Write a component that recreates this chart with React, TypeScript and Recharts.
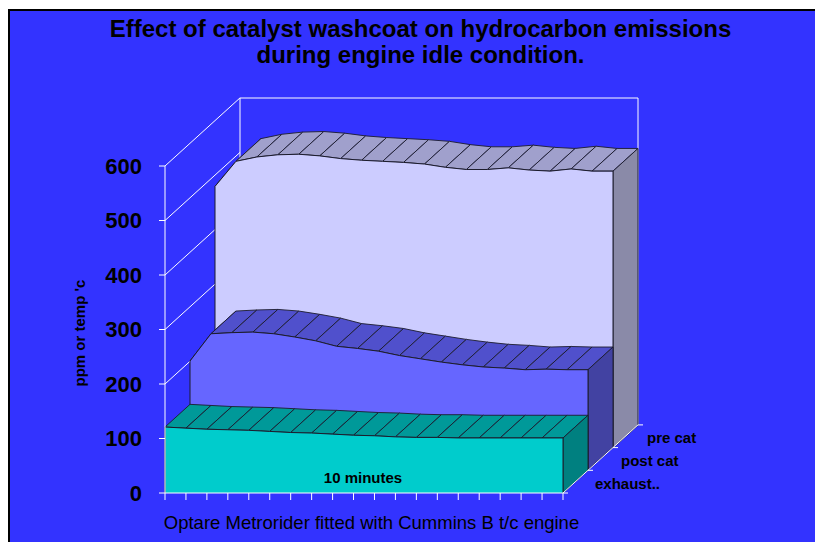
import React from "react";
import { AreaChart, Area, XAxis, YAxis, ReferenceLine } from "recharts";

// readings every half minute over the 10 minute idle
const minutes = [0.5, 1, 1.5, 2, 2.5, 3, 3.5, 4, 4.5, 5, 5.5, 6, 6.5, 7, 7.5, 8, 8.5, 9, 9.5, 10];
const exhaust = [121, 119, 117, 116, 115, 113, 111, 110, 108, 106, 105, 103, 102, 102, 101, 101, 101, 101, 101, 101];
const postCat = [200, 250, 252, 253, 250, 244, 237, 227, 223, 218, 210, 204, 198, 193, 189, 187, 184, 185, 184, 184];
const preCat = [480, 526, 534, 538, 539, 536, 531, 528, 526, 524, 521, 515, 511, 511, 514, 510, 508, 512, 508, 508];
const yTicks = [0, 100, 200, 300, 400, 500, 600];
const depthLabels = ["exhaust..", "post cat", "pre cat"];

const data = minutes.map((m, i) => ({
  min: m,
  exhaust: exhaust[i],
  postCat: postCat[i],
  preCat: preCat[i],
}));

const W = 815;
const H = 542;
const PLOT_LEFT = 165;
const PLOT_RIGHT = 563;
const PLOT_TOP = 166;
const PLOT_BOTTOM = 493;
const MARGIN = { top: PLOT_TOP, right: W - PLOT_RIGHT, bottom: H - PLOT_BOTTOM, left: PLOT_LEFT };

// oblique depth of one series slab, in px
const DX = 25;
const DY = 22.7;
// same offsets in data units (for reference lines drawn across the depth)
const X_MIN = minutes[0];
const X_MAX = minutes[minutes.length - 1];
const DX_MIN = DX / ((PLOT_RIGHT - PLOT_LEFT) / (X_MAX - X_MIN));
const DY_VAL = DY / ((PLOT_BOTTOM - PLOT_TOP) / 600);
const TICK_MIN = 5 / ((PLOT_RIGHT - PLOT_LEFT) / (X_MAX - X_MIN));

const EDGE = "#1c1c2c";
const FONT = "'Liberation Sans', Arial, sans-serif";

const series = [
  { key: "preCat", depth: 2, front: "#ccccff", top: "#a0a0cc", side: "#8a8aa8" },
  { key: "postCat", depth: 1, front: "#6666ff", top: "#5050cc", side: "#4242a2" },
  { key: "exhaust", depth: 0, front: "#00cccc", top: "#009999", side: "#008080" },
];

// top face strips + right end face, built from the area's own points
function facesDot(top: string, side: string) {
  return (p: any) => {
    const { cx, cy, index, points } = p;
    const pts = points || [];
    if (index < pts.length - 1) {
      const n = pts[index + 1];
      return (
        <polygon
          key={`t${index}`}
          points={`${cx},${cy} ${n.x},${n.y} ${n.x + DX},${n.y - DY} ${cx + DX},${cy - DY}`}
          fill={top}
          stroke={EDGE}
          strokeWidth={0.9}
          strokeLinejoin="round"
        />
      );
    }
    return (
      <polygon
        key="side"
        points={`${cx},${cy} ${cx + DX},${cy - DY} ${cx + DX},${PLOT_BOTTOM - DY} ${cx},${PLOT_BOTTOM}`}
        fill={side}
        stroke={EDGE}
        strokeWidth={0.9}
      />
    );
  };
}

// vertical edges of the front face
function edgeDot(p: any) {
  const { cx, cy, index } = p;
  if (index !== 0 && index !== minutes.length - 1) return <g key={`e${index}`} />;
  return <line key={`e${index}`} x1={cx} y1={cy} x2={cx} y2={PLOT_BOTTOM} stroke={EDGE} strokeWidth={1} />;
}

function Layer({ depth, children }: { depth: number; children: React.ReactNode }) {
  return (
    <div style={{ position: "absolute", left: depth * DX, top: -depth * DY }}>
      <AreaChart width={W} height={H} data={data} margin={MARGIN}>
        <XAxis dataKey="min" type="number" domain={[X_MIN, X_MAX]} hide />
        <YAxis type="number" domain={[0, 600]} hide />
        {children}
      </AreaChart>
    </div>
  );
}

// keeps the axes of a wall-only layer alive
const Ghost = () => (
  <Area dataKey="exhaust" fill="none" stroke="none" isAnimationActive={false} activeDot={false} />
);

const abs = (x: number, y: number, extra: React.CSSProperties = {}): React.CSSProperties => ({
  position: "absolute",
  left: x,
  top: y,
  fontFamily: FONT,
  color: "#000",
  whiteSpace: "nowrap",
  ...extra,
});

export default function App() {
  return (
    <div style={{ position: "relative", width: W, height: H, overflow: "hidden", background: "#fff" }}>
      <style>{`body{margin:0;overflow:hidden}`}</style>
      <div
        style={{
          position: "absolute",
          left: 8,
          top: 9,
          width: 900,
          height: 600,
          border: "2px solid #000",
          background: "#3333ff",
        }}
      />

      {/* left wall grid lines */}
      <Layer depth={0}>
        {Ghost()}
        {yTicks.map((v) => (
          <ReferenceLine
            key={`w${v}`}
            segment={[
              { x: X_MIN, y: v },
              { x: X_MIN + 3 * DX_MIN, y: v + 3 * DY_VAL },
            ]}
            stroke="#ffffff"
            strokeWidth={1}
            ifOverflow="visible"
          />
        ))}
      </Layer>

      {/* back wall outline */}
      <Layer depth={3}>
        {Ghost()}
        <ReferenceLine segment={[{ x: X_MIN, y: 0 }, { x: X_MIN, y: 600 }]} stroke="#ffffff" ifOverflow="visible" />
        <ReferenceLine segment={[{ x: X_MIN, y: 600 }, { x: X_MAX, y: 600 }]} stroke="#ffffff" ifOverflow="visible" />
        <ReferenceLine segment={[{ x: X_MAX, y: 0 }, { x: X_MAX, y: 600 }]} stroke="#ffffff" ifOverflow="visible" />
      </Layer>

      {series.map((s) => (
        <React.Fragment key={s.key}>
          <Layer depth={s.depth}>
            <Area
              type="linear"
              dataKey={s.key}
              fill="none"
              stroke="none"
              dot={facesDot(s.top, s.side)}
              activeDot={false}
              isAnimationActive={false}
            />
          </Layer>
          <Layer depth={s.depth}>
            <Area
              type="linear"
              dataKey={s.key}
              fill={s.front}
              fillOpacity={1}
              stroke={EDGE}
              strokeWidth={1}
              dot={edgeDot}
              activeDot={false}
              isAnimationActive={false}
            />
          </Layer>
        </React.Fragment>
      ))}

      {/* front axes */}
      <div style={{ position: "absolute", left: 0, top: 0 }}>
        <AreaChart
          width={W}
          height={H}
          data={data}
          margin={{ top: PLOT_TOP, right: W - PLOT_RIGHT, bottom: H - PLOT_BOTTOM - 10, left: PLOT_LEFT - 60 }}
        >
          <XAxis
            dataKey="min"
            type="number"
            domain={[X_MIN, X_MAX]}
            ticks={minutes}
            height={10}
            tickSize={7}
            tickFormatter={() => ""}
            axisLine={{ stroke: "#ffffff", strokeWidth: 1 }}
            tickLine={{ stroke: "#ffffff", strokeWidth: 1 }}
          />
          <YAxis
            type="number"
            domain={[0, 600]}
            ticks={yTicks}
            width={60}
            tickSize={6}
            tickMargin={17}
            axisLine={{ stroke: "#ffffff", strokeWidth: 1 }}
            tickLine={{ stroke: "#ffffff", strokeWidth: 1 }}
            tick={{ fontSize: 22, fontWeight: 700, fill: "#000", fontFamily: FONT }}
          />
          {Ghost()}
          <ReferenceLine
            segment={[
              { x: X_MAX, y: 0 },
              { x: X_MAX + 3 * DX_MIN, y: 3 * DY_VAL },
            ]}
            stroke="#ffffff"
            ifOverflow="visible"
          />
          {[0, 1, 2, 3].map((k) => (
            <ReferenceLine
              key={`d${k}`}
              segment={[
                { x: X_MAX + k * DX_MIN, y: k * DY_VAL },
                { x: X_MAX + k * DX_MIN + TICK_MIN, y: k * DY_VAL },
              ]}
              stroke="#ffffff"
              ifOverflow="visible"
            />
          ))}
        </AreaChart>
      </div>

      <div
        style={abs(0, 16, {
          width: 841,
          textAlign: "center",
          fontSize: 24,
          fontWeight: 700,
          lineHeight: "26px",
        })}
      >
        Effect of catalyst washcoat on hydrocarbon emissions
        <br />
        during engine idle condition.
      </div>

      <div style={abs(79, 333, { fontSize: 15, fontWeight: 700, transform: "translate(-50%, -50%) rotate(-90deg)" })}>
        ppm or temp 'c
      </div>

      <div style={abs(363, 477, { fontSize: 15, fontWeight: 700, transform: "translate(-50%, -50%)" })}>
        10 minutes
      </div>

      <div style={abs(371.5, 523, { fontSize: 18.5, transform: "translate(-50%, -50%)" })}>
        Optare Metrorider fitted with Cummins B t/c engine
      </div>

      {depthLabels.map((label, k) => (
        <div
          key={label}
          style={abs(595 + k * 26, 483 - k * 23, { fontSize: 15, fontWeight: 700, transform: "translateY(-50%)" })}
        >
          {label}
        </div>
      ))}
    </div>
  );
}
